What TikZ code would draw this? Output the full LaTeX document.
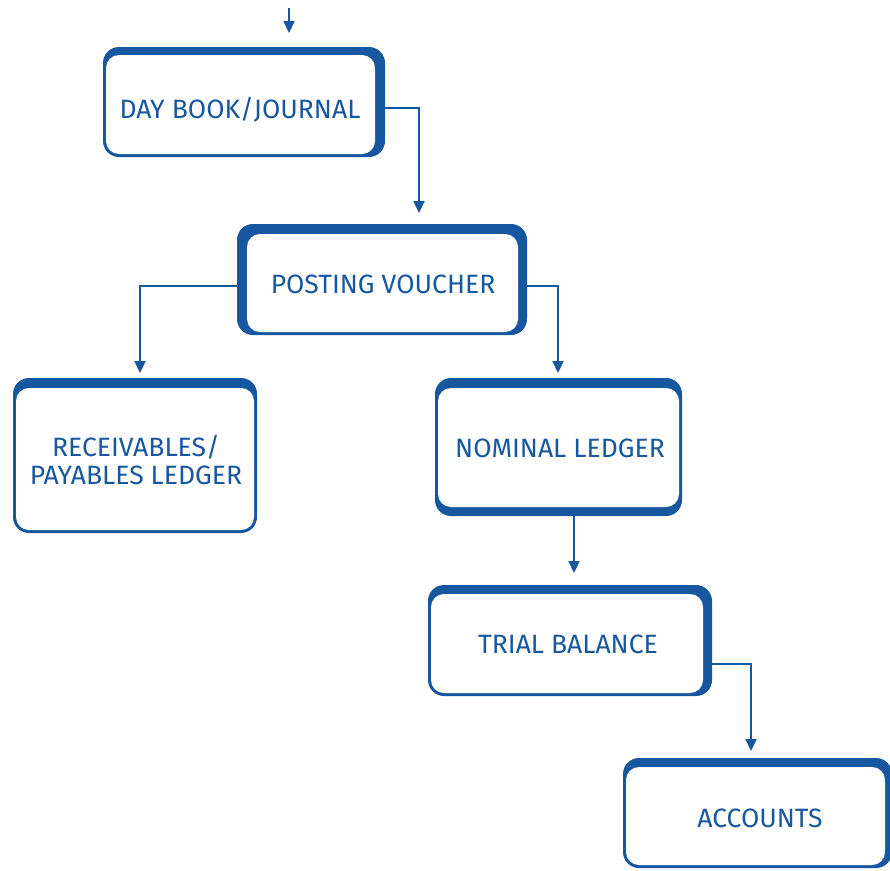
\documentclass[tikz,border=0pt]{standalone}
\usepackage{fontspec}
\setmainfont{Fira Sans}
\usetikzlibrary{arrows.meta,backgrounds}
\definecolor{boxblue}{RGB}{23,87,160}
\newcommand{\flowbox}[9]{%
  \pgfmathsetmacro{\bw}{#4-#2}%
  \pgfmathsetmacro{\bh}{#5-#3}%
  \node[boxnode, minimum width=\bw pt, minimum height=\bh pt] (#1) at ({(#2+#4)/2},{(#3+#5)/2}) {};
  \begin{scope}[on background layer]
    \fill[boxblue, rounded corners=16pt] (#2,#3) rectangle (#4,#5);
    \fill[white, rounded corners=13pt] ({#2+#6},{#3+#7}) rectangle ({#4-#8},{#5-#9});
  \end{scope}%
}
\begin{document}
\begin{tikzpicture}[x=1pt,y=-1pt,
  boxnode/.style={rectangle, draw=none, inner sep=0pt, outer sep=0pt},
  lbl/.style={text=boxblue, font=\fontsize{26.5}{28}\selectfont, align=center, inner sep=0pt},
  arr/.style={draw=boxblue, line width=2.2pt, -{Triangle[length=12pt,width=11pt]}}]
\useasboundingbox (0,0) rectangle (890,870);
\flowbox{b1}{103}{47}{385}{157}{3}{8}{10}{3}
\flowbox{b2}{237}{224}{527}{335}{10}{10}{9}{3}
\flowbox{b3}{13}{378}{257}{533}{3}{10}{3}{3}
\flowbox{b4}{435}{378}{682}{516}{3}{10}{3}{9}
\flowbox{b5}{428}{585}{712}{696}{3}{9}{9}{3}
\flowbox{b6}{623}{758}{892}{868}{3}{9}{7}{3}
\node[lbl] (l1) at (240,110) {DAY BOOK/JOURNAL};
\node[lbl] (l2) at (383,284) {POSTING VOUCHER};
\node[lbl] (l3) at (136,460) {RECEIVABLES/\\PAYABLES LEDGER};
\node[lbl] (l4) at (560,448) {NOMINAL LEDGER};
\node[lbl] (l5) at (568,644) {TRIAL BALANCE};
\node[lbl] (l6) at (760,818) {ACCOUNTS};
\coordinate (s0) at (289,8);
\coordinate (x1) at (419,0);
\coordinate (x2) at (140,0);
\coordinate (x3) at (558,0);
\coordinate (x4) at (574,0);
\coordinate (x5) at (751,0);
\draw[arr, shorten >=14pt] (s0) -- (s0 |- b1.north);
\draw[arr, shorten >=11pt] ([yshift=-6pt]b1.east) -| (x1 |- b2.north);
\draw[arr, shorten >=5pt] ([yshift=-6.5pt]b2.west) -| (x2 |- b3.north);
\draw[arr, shorten >=5pt] ([yshift=-6.5pt]b2.east) -| (x3 |- b4.north);
\draw[arr, shorten >=12pt] (x4 |- b4.south) -- (x4 |- b5.north);
\draw[arr, shorten >=7pt] ([yshift=-23.5pt]b5.east) -| (x5 |- b6.north);
\end{tikzpicture}
\end{document}
